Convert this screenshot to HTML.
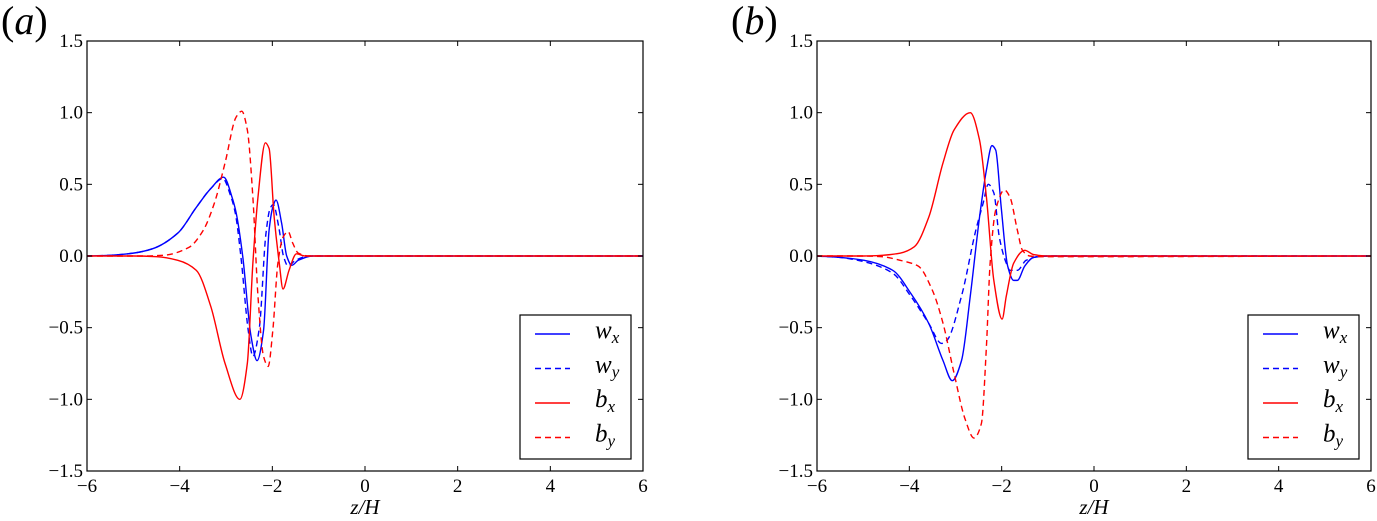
<!DOCTYPE html>
<html><head><meta charset="utf-8"><style>
html,body{margin:0;padding:0;background:#fff;}
svg{display:block;}
svg text{font-family:"Liberation Serif","DejaVu Serif",serif;}
</style></head><body>
<svg id="fig" width="1377" height="521" viewBox="0 0 1377 521" xmlns="http://www.w3.org/2000/svg" font-family="Liberation Serif, DejaVu Serif, serif"></svg>
<script>
const xTicks=[-6,-4,-2,0,2,4,6];
const yTicks=[-1.5,-1.0,-0.5,0.0,0.5,1.0,1.5];
const yTickLabels=["\u22121.5","\u22121.0","\u22120.5","0.0","0.5","1.0","1.5"];
const xTickLabels=["\u22126","\u22124","\u22122","0","2","4","6"];
// Panel a
const aWxZ=[-6,-5.5,-5,-4.59,-4.04,-3.64,-3.33,-3.05,-2.86,-2.78,-2.64,-2.46,-2.33,-2.19,-2.07,-1.99,-1.92,-1.8,-1.69,-1.58,-1.44,-1.13,6];
const aWxV=[0,0.005,0.02,0.05,0.16,0.34,0.47,0.55,0.4,0.3,0,-0.56,-0.73,-0.52,0.18,0.34,0.39,0.23,0,-0.065,-0.03,0,0];
const aWyZ=[-6,-5.5,-5,-4.59,-4.04,-3.64,-3.33,-3.07,-2.9,-2.8,-2.68,-2.52,-2.42,-2.28,-2.14,-2.05,-1.98,-1.86,-1.76,-1.66,-1.5,-1.2,6];
const aWyV=[0,0.005,0.02,0.05,0.16,0.34,0.47,0.54,0.42,0.3,0,-0.52,-0.7,-0.5,0.15,0.33,0.36,0.2,0,-0.07,-0.03,0,0];
const aBxZ=[-6,-5,-4.5,-4.04,-3.64,-3.33,-3.02,-2.7,-2.54,-2.42,-2.31,-2.15,-2.07,-1.96,-1.85,-1.77,-1.64,-1.48,-1.29,6];
const aBxV=[0,0,-0.005,-0.03,-0.1,-0.35,-0.75,-1.0,-0.75,-0.05,0.41,0.79,0.75,0.27,-0.05,-0.23,-0.1,0.015,0,0];
const aByZ=[-6,-4.8,-4.35,-3.8,-3.49,-3.25,-3.02,-2.78,-2.66,-2.54,-2.42,-2.31,-2.19,-2.09,-1.99,-1.88,-1.77,-1.66,-1.56,-1.44,-1.2,6];
const aByV=[0,0,0.005,0.06,0.18,0.37,0.65,0.97,1.01,0.88,0.41,-0.28,-0.7,-0.77,-0.52,-0.05,0.13,0.17,0.09,0.02,0,0];
// Panel b
const bWxZ=[-6,-5.5,-4.98,-4.36,-3.97,-3.58,-3.27,-3.07,-2.87,-2.68,-2.48,-2.33,-2.21,-2.13,-2.01,-1.87,-1.74,-1.66,-1.5,-1.31,-1.0,6];
const bWxV=[0,-0.01,-0.03,-0.1,-0.26,-0.47,-0.73,-0.87,-0.73,-0.28,0.27,0.6,0.77,0.74,0.34,-0.07,-0.17,-0.17,-0.07,-0.01,0,0];
const bWyZ=[-6,-5.5,-4.98,-4.36,-3.97,-3.58,-3.3,-3.19,-2.87,-2.56,-2.4,-2.29,-2.17,-2.05,-1.9,-1.82,-1.66,-1.47,-1.1,6];
const bWyV=[0,-0.01,-0.04,-0.12,-0.28,-0.47,-0.61,-0.59,-0.28,0.18,0.37,0.5,0.44,0.13,-0.05,-0.1,-0.1,-0.03,0,0];
const bBxZ=[-6,-5,-4.59,-4.2,-3.89,-3.58,-3.27,-3.03,-2.68,-2.48,-2.33,-2.17,-1.99,-1.9,-1.74,-1.5,-1.31,-1.0,6];
const bBxV=[0,0,0.005,0.02,0.065,0.27,0.65,0.88,1.0,0.81,0.41,-0.17,-0.44,-0.28,-0.05,0.04,0.01,0,0];
const bByZ=[-6,-5,-4.59,-4.2,-3.81,-3.5,-3.27,-3.03,-2.79,-2.6,-2.44,-2.33,-2.25,-2.13,-1.94,-1.82,-1.66,-1.55,-1.39,-1.1,6];
const bByV=[0,0,-0.005,-0.03,-0.07,-0.24,-0.47,-0.82,-1.14,-1.27,-1.17,-0.63,-0.05,0.32,0.46,0.41,0.18,0.04,0,-0.005,0];

const NS="http://www.w3.org/2000/svg";
const svg=document.getElementById('fig');
function mk(tag,attrs,parent){const e=document.createElementNS(NS,tag);for(const k in attrs)e.setAttribute(k,attrs[k]);(parent||svg).appendChild(e);return e;}
const FF='Liberation Serif, DejaVu Serif, serif';

function monoPath(xs,ys){
  const n=xs.length,dx=[],m=[],t=new Array(n);
  for(let i=0;i<n-1;i++){dx.push(xs[i+1]-xs[i]);m.push((ys[i+1]-ys[i])/(xs[i+1]-xs[i]));}
  t[0]=m[0];t[n-1]=m[n-2];
  for(let i=1;i<n-1;i++){
    if(m[i-1]*m[i]<=0)t[i]=0;
    else{const w1=2*dx[i]+dx[i-1],w2=dx[i]+2*dx[i-1];t[i]=(w1+w2)/(w1/m[i-1]+w2/m[i]);}
  }
  let d='M'+xs[0].toFixed(2)+','+ys[0].toFixed(2);
  for(let i=0;i<n-1;i++){
    const h=dx[i]/3;
    d+='C'+(xs[i]+h).toFixed(2)+','+(ys[i]+t[i]*h).toFixed(2)+' '+(xs[i+1]-h).toFixed(2)+','+(ys[i+1]-t[i+1]*h).toFixed(2)+' '+xs[i+1].toFixed(2)+','+ys[i+1].toFixed(2);
  }
  return d;
}

function panel(id,L,R,T,B,series,label){
  const g=mk('g',{});
  
  
  const sx=z=>L+(z+6)/12*(R-L);
  const sy=v=>T+(1.5-v)/3*(B-T);
  const pl=mk('text',{x:L-86,y:34,'font-size':'40','font-family':FF},g);
  
  
  const t1=mk('tspan',{},pl);t1.textContent='(';
  const t2=mk('tspan',{'font-style':'italic'},pl);t2.textContent=label;
  const t3=mk('tspan',{},pl);t3.textContent=')';
  const clip=mk('clipPath',{id:'clip'+id},g);
  mk('rect',{x:L,y:T,width:R-L,height:B-T},clip);
  const sg=mk('g',{'clip-path':'url(#clip'+id+')'},g);
  series.forEach(s=>{
    const d=monoPath(s.z.map(sx),s.v.map(sy));
    const p=mk('path',{d:d,fill:'none',stroke:s.c,'stroke-width':'1.4','stroke-linejoin':'round'},sg);
    if(s.dash)p.setAttribute('stroke-dasharray','6,4');
    
    
  });
  const frame=mk('rect',{x:L,y:T,width:R-L,height:B-T,fill:'none',stroke:'#000','stroke-width':'1.2'},g);
  
  
  xTicks.forEach((t,i)=>{
    const x=sx(t);
    mk('line',{x1:x,y1:B,x2:x,y2:B-5,stroke:'#000'},g);
    mk('line',{x1:x,y1:T,x2:x,y2:T+5,stroke:'#000'},g);
    const tx=mk('text',{x:x,y:B+21,'font-size':'19','text-anchor':'middle','font-family':FF},g);
    tx.textContent=xTickLabels[i];
    
    
  });
  yTicks.forEach((t,i)=>{
    const y=sy(t);
    mk('line',{x1:L,y1:y,x2:L+5,y2:y,stroke:'#000'},g);
    mk('line',{x1:R,y1:y,x2:R-5,y2:y,stroke:'#000'},g);
    const tx=mk('text',{x:L-4,y:y+6,'font-size':'19','text-anchor':'end','font-family':FF},g);
    tx.textContent=yTickLabels[i];
    
    
  });
  const xl=mk('text',{x:(L+R)/2,y:B+43,'font-size':'21','text-anchor':'middle','font-style':'italic','font-family':FF},g);
  xl.textContent='z/H';
  
  
  const lx=R-123, ly=T+274;
  const lg=mk('g',{},g);
  
  
  mk('rect',{x:lx,y:ly,width:111,height:144,fill:'#fff',stroke:'#000','stroke-width':'1.2'},lg);
  series.forEach((s,i)=>{
    const yy=ly+19+i*34.5;
    const ln=mk('line',{x1:lx+15,y1:yy,x2:lx+50,y2:yy,stroke:s.c,'stroke-width':'1.4'},lg);
    if(s.dash)ln.setAttribute('stroke-dasharray','6,4');
    const t=mk('text',{x:lx+75,y:yy+4,'font-size':'25','font-style':'italic','font-family':FF},lg);
    t.textContent=s.n[0];
    const sub=mk('tspan',{'font-size':'17',dy:'5'},t);
    sub.textContent=s.n[1];
    
    
  });
}
panel('a',87,643,41,471,[
  {n:'wx',z:aWxZ,v:aWxV,c:'#0000ff',dash:false},
  {n:'wy',z:aWyZ,v:aWyV,c:'#0000ff',dash:true},
  {n:'bx',z:aBxZ,v:aBxV,c:'#ff0000',dash:false},
  {n:'by',z:aByZ,v:aByV,c:'#ff0000',dash:true}],'a');
panel('b',817,1371,41,471,[
  {n:'wx',z:bWxZ,v:bWxV,c:'#0000ff',dash:false},
  {n:'wy',z:bWyZ,v:bWyV,c:'#0000ff',dash:true},
  {n:'bx',z:bBxZ,v:bBxV,c:'#ff0000',dash:false},
  {n:'by',z:bByZ,v:bByV,c:'#ff0000',dash:true}],'b');
</script>
</body></html>
